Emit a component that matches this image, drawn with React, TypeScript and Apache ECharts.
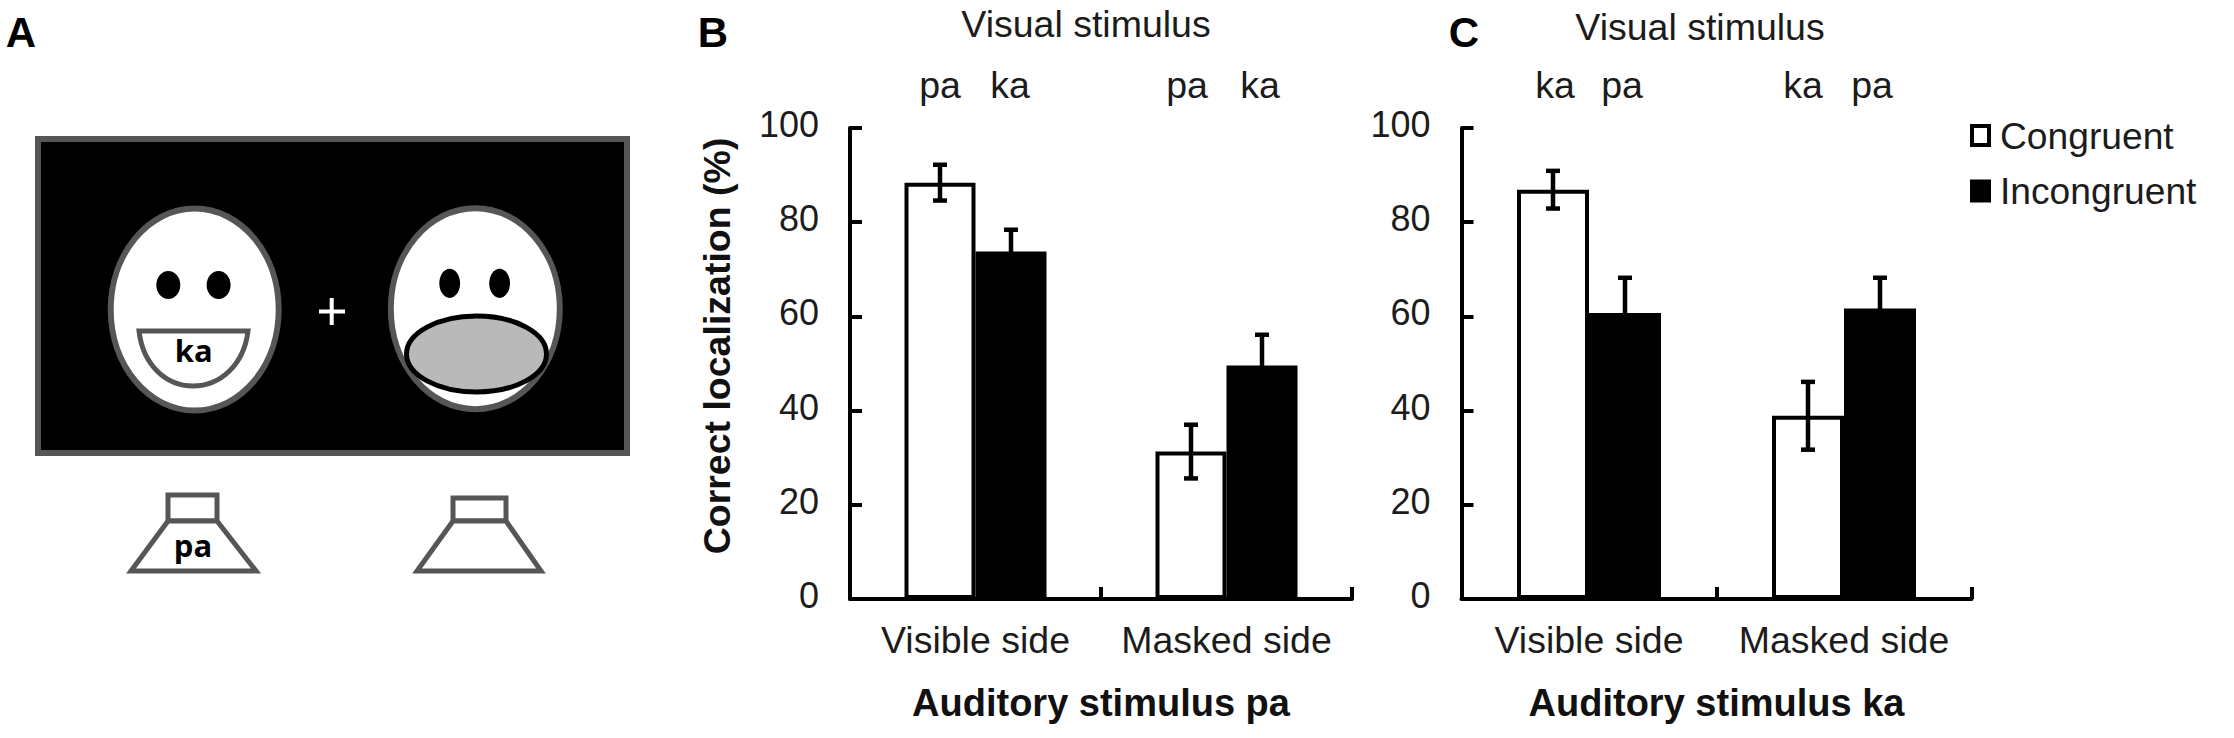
import React, { useEffect, useRef } from "react";
import * as echarts from "echarts";

const categories = ["Visible side", "Masked side"];
const yTicks = [0, 20, 40, 60, 80, 100];
const seriesNames = ["Congruent", "Incongruent"];
const bCongruent = [88.4, 31.3];
const bIncongruent = [73.8, 49.6];
const bCongruentErr = [3.8, 5.7];
const bIncongruentErr = [4.6, 6.5];
const cCongruent = [86.9, 38.9];
const cIncongruent = [60.7, 61.7];
const cCongruentErr = [4.0, 7.2];
const cIncongruentErr = [7.5, 6.5];
const panelLetters = ["A", "B", "C"];
const visualTitle = "Visual stimulus";
const bVisualLabels = ["pa", "ka", "pa", "ka"];
const cVisualLabels = ["ka", "pa", "ka", "pa"];
const bAxisName = "Auditory stimulus pa";
const cAxisName = "Auditory stimulus ka";
const yAxisName = "Correct localization (%)";
const mouthText = "ka";
const speakerText = "pa";

const FONT = '"Liberation Sans", Arial, sans-serif';
const INK = "#1c1c1c";
const RIM = "#565656";

echarts.graphic.registerShape(
  "mouthShape",
  echarts.graphic.extendPath(
    "M139 331 L248 331 C244 365 220 386 193 386 C166 386 143 365 139 331 Z",
    {} as any
  ) as any
);

function errorSeries(xAxisIndex: number, values: number[], errs: number[], offset: number) {
  return {
    type: "custom",
    xAxisIndex,
    yAxisIndex: xAxisIndex,
    z: 5,
    clip: false,
    silent: true,
    data: values.map((v, i) => [i, v - errs[i], v + errs[i]]),
    encode: { x: 0, y: [1, 2] },
    renderItem: (_p: any, api: any) => {
      const lo = api.coord([api.value(0), api.value(1)]);
      const hi = api.coord([api.value(0), api.value(2)]);
      const x = lo[0] + offset;
      const cap = 7;
      const style = { stroke: "#000", lineWidth: 4.5, fill: "none" };
      return {
        type: "group",
        children: [
          { type: "line", shape: { x1: x, y1: lo[1], x2: x, y2: hi[1] }, style },
          { type: "line", shape: { x1: x - cap, y1: lo[1], x2: x + cap, y2: lo[1] }, style },
          { type: "line", shape: { x1: x - cap, y1: hi[1], x2: x + cap, y2: hi[1] }, style },
        ],
      };
    },
  };
}

function barSeries(name: number, axis: number, data: number[], width: number) {
  return {
    type: "bar",
    name: seriesNames[name],
    xAxisIndex: axis,
    yAxisIndex: axis,
    data,
    barWidth: width,
    barGap: "0%",
    z: 3,
    itemStyle: { color: name === 0 ? "#fff" : "#000", borderColor: "#000", borderWidth: 4 },
  };
}

function xAxis(gridIndex: number, name: string) {
  return {
    type: "category",
    gridIndex,
    data: categories,
    name,
    nameLocation: "middle",
    nameGap: 85,
    nameTextStyle: { fontFamily: FONT, fontWeight: "bold", fontSize: 38, color: "#111" },
    axisLine: { show: true, lineStyle: { color: "#000", width: 4 } },
    axisTick: { show: true, alignWithLabel: false, inside: true, interval: 0, length: 12, lineStyle: { color: "#000", width: 4 } },
    axisLabel: { interval: 0, fontFamily: FONT, fontSize: 37.5, color: INK, margin: 22 },
  };
}

function yAxis(gridIndex: number, name: string) {
  return {
    type: "value",
    gridIndex,
    min: yTicks[0],
    max: yTicks[yTicks.length - 1],
    interval: yTicks[1] - yTicks[0],
    name,
    nameLocation: "middle",
    nameGap: 114,
    nameTextStyle: { fontFamily: FONT, fontWeight: "bold", fontSize: 37.5, color: "#111", padding: [0, 0, 0, 35] },
    splitLine: { show: false },
    axisLine: { show: true, lineStyle: { color: "#000", width: 4 } },
    axisTick: { show: true, inside: true, length: 12, lineStyle: { color: "#000", width: 4 } },
    axisLabel: {
      fontFamily: FONT,
      fontSize: 36,
      color: INK,
      margin: 31,
      formatter: "{t|{value}}",
      rich: { t: { fontFamily: FONT, fontSize: 36, color: INK, padding: [0, 0, 7, 0] } },
    },
  };
}

function label(text: string, x: number, y: number, font: string, fill = INK) {
  return {
    type: "text",
    x,
    y,
    silent: true,
    style: { text, font, fill, textAlign: "center", textVerticalAlign: "middle" },
  };
}

function buildGraphics() {
  const rim = { stroke: RIM, lineWidth: 6 };
  const regular = `37.5px ${FONT}`;
  const letter = `bold 42px ${FONT}`;
  const mini = `bold 31px "Open Sans", ${FONT}`;
  const oval = (cx: number, cy: number, rx: number, ry: number, style: any) => ({
    type: "ellipse",
    silent: true,
    shape: { cx, cy, rx, ry },
    style,
  });
  const seg = (x1: number, y1: number, x2: number, y2: number) => ({
    type: "line",
    silent: true,
    shape: { x1, y1, x2, y2 },
    style: { stroke: "#fff", lineWidth: 4 },
  });
  const speaker = (x1: number, x2: number, top: number, bl: number, br: number) => [
    { type: "rect", silent: true, shape: { x: x1, y: top, width: x2 - x1, height: 521 - top }, style: { fill: "#fff", stroke: RIM, lineWidth: 5 } },
    { type: "polygon", silent: true, shape: { points: [[x1, 521], [x2, 521], [br, 571], [bl, 571]] }, style: { fill: "#fff", stroke: RIM, lineWidth: 5 } },
  ];
  return [
    { type: "rect", silent: true, shape: { x: 38, y: 139, width: 589, height: 314 }, style: { fill: "#000", ...rim } },
    oval(194.7, 309.6, 84, 101, { fill: "#fff", ...rim }),
    oval(168.3, 285, 12, 14, { fill: "#000" }),
    oval(218.6, 285, 12, 14, { fill: "#000" }),
    { type: "mouthShape", silent: true, x: 0, y: 0, style: { fill: "#fff", stroke: RIM, lineWidth: 5 } },
    label(mouthText, 193.8, 350, mini, "#000"),
    seg(319, 311.5, 345, 311.5),
    seg(331.7, 298, 331.7, 325),
    oval(475.3, 308.7, 84.5, 100.5, { fill: "#fff", ...rim }),
    oval(449.7, 283.3, 10.4, 14.6, { fill: "#000" }),
    oval(499.6, 283.3, 10.4, 14.6, { fill: "#000" }),
    oval(476.5, 354, 70, 38, { fill: "#b9b9b9", stroke: "#000", lineWidth: 5 }),
    ...speaker(168, 217, 495, 131, 256),
    ...speaker(453, 506, 498, 417, 541),
    label(speakerText, 193, 545, mini, "#000"),
    label(panelLetters[0], 21, 32, letter, "#000"),
    label(panelLetters[1], 713, 32, letter, "#000"),
    label(panelLetters[2], 1464, 32, letter, "#000"),
    label(visualTitle, 1086, 24, regular),
    label(visualTitle, 1700, 27, regular),
    ...[940, 1010, 1187, 1260].map((x, i) => label(bVisualLabels[i], x, 85, regular)),
    ...[1555, 1622, 1803, 1872].map((x, i) => label(cVisualLabels[i], x, 85, regular)),
  ];
}

export default function App() {
  const ref = useRef<HTMLDivElement>(null);
  useEffect(() => {
    document.body.style.margin = "0";
    document.body.style.background = "#fff";
    const chart = echarts.init(ref.current!, undefined, { renderer: "svg" });
    chart.setOption({
      animation: false,
      backgroundColor: "#fff",
      grid: [
        { left: 850, top: 128, width: 502, height: 471 },
        { left: 1461.5, top: 128, width: 510, height: 471 },
      ],
      xAxis: [xAxis(0, bAxisName), xAxis(1, cAxisName)],
      yAxis: [yAxis(0, yAxisName), { ...yAxis(1, ""), name: undefined }],
      legend: {
        left: 1970,
        top: 117,
        orient: "vertical",
        data: seriesNames,
        icon: "rect",
        itemWidth: 17,
        itemHeight: 19,
        itemGap: 18.5,
        padding: 0,
        selectedMode: false,
        itemStyle: { borderWidth: 4, borderColor: "#000" },
        textStyle: { fontFamily: FONT, fontSize: 37.2, color: INK, padding: [0, 0, 6, 6] },
      },
      series: [
        barSeries(0, 0, bCongruent, 71),
        barSeries(1, 0, bIncongruent, 71),
        barSeries(0, 1, cCongruent, 72),
        barSeries(1, 1, cIncongruent, 72),
        errorSeries(0, bCongruent, bCongruentErr, -35.5),
        errorSeries(0, bIncongruent, bIncongruentErr, 35.5),
        errorSeries(1, cCongruent, cCongruentErr, -36),
        errorSeries(1, cIncongruent, cIncongruentErr, 36),
      ],
      graphic: { elements: buildGraphics() },
    });
    return () => chart.dispose();
  }, []);
  return <div ref={ref} style={{ width: 2234, height: 738 }} />;
}
